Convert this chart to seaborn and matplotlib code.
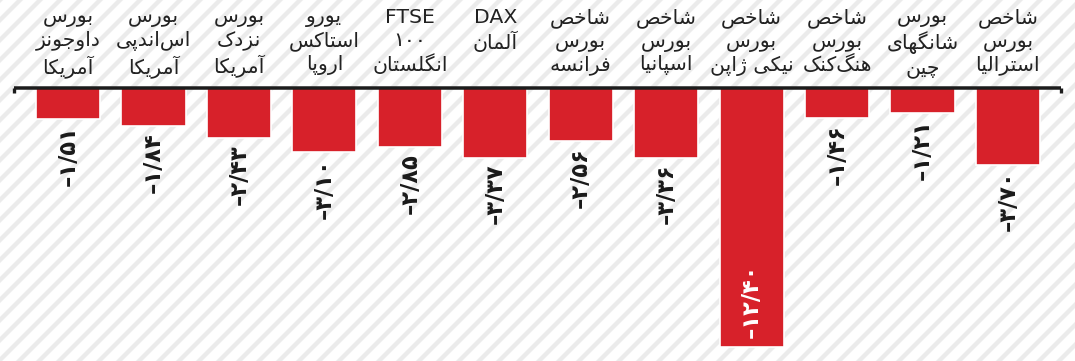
import matplotlib
matplotlib.use("Agg")
import matplotlib.pyplot as plt
from matplotlib.patches import Rectangle
import seaborn as sns
import pandas as pd

# ---------------- data ----------------
categories = [
    "بورس\nداوجونز\nآمریکا",
    "بورس\nاس\u200cاندپی\nآمریکا",
    "بورس\nنزدک\nآمریکا",
    "یورو\nاستاکس\nاروپا",
    "FTSE\n۱۰۰\nانگلستان",
    "DAX\nآلمان",
    "شاخص\nبورس\nفرانسه",
    "شاخص\nبورس\nاسپانیا",
    "شاخص\nبورس\nنیکی ژاپن",
    "شاخص\nبورس\nهنگ\u200cکنک",
    "بورس\nشانگهای\nچین",
    "شاخص\nبورس\nاسترالیا",
]
values = [-1.51, -1.84, -2.43, -3.10, -2.85, -3.37, -2.56, -3.36, -12.40, -1.46, -1.21, -3.70]

# ---------------- simple Arabic/Persian shaping for display ----------------
FORMS = {
    'ا': ('\uFE8D', '\uFE8E'), 'آ': ('\uFE81', '\uFE82'),
    'د': ('\uFEA9', '\uFEAA'), 'ر': ('\uFEAD', '\uFEAE'),
    'ز': ('\uFEAF', '\uFEB0'), 'ژ': ('\uFB8A', '\uFB8B'),
    'و': ('\uFEED', '\uFEEE'),
    'ب': ('\uFE8F', '\uFE90', '\uFE91', '\uFE92'),
    'پ': ('\uFB56', '\uFB57', '\uFB58', '\uFB59'),
    'ت': ('\uFE95', '\uFE96', '\uFE97', '\uFE98'),
    'ج': ('\uFE9D', '\uFE9E', '\uFE9F', '\uFEA0'),
    'چ': ('\uFB7A', '\uFB7B', '\uFB7C', '\uFB7D'),
    'خ': ('\uFEA5', '\uFEA6', '\uFEA7', '\uFEA8'),
    'س': ('\uFEB1', '\uFEB2', '\uFEB3', '\uFEB4'),
    'ش': ('\uFEB5', '\uFEB6', '\uFEB7', '\uFEB8'),
    'ص': ('\uFEB9', '\uFEBA', '\uFEBB', '\uFEBC'),
    'ف': ('\uFED1', '\uFED2', '\uFED3', '\uFED4'),
    'ک': ('\uFB8E', '\uFB8F', '\uFB90', '\uFB91'),
    'گ': ('\uFB92', '\uFB93', '\uFB94', '\uFB95'),
    'ل': ('\uFEDD', '\uFEDE', '\uFEDF', '\uFEE0'),
    'م': ('\uFEE1', '\uFEE2', '\uFEE3', '\uFEE4'),
    'ن': ('\uFEE5', '\uFEE6', '\uFEE7', '\uFEE8'),
    'ه': ('\uFEE9', '\uFEEA', '\uFEEB', '\uFEEC'),
    'ی': ('\uFBFC', '\uFBFD', '\uFBFE', '\uFBFF'),
}
DUAL = {c for c, f in FORMS.items() if len(f) == 4}


def shape_line(s):
    if not any(c in FORMS for c in s):
        return s
    out = []
    for i, c in enumerate(s):
        if c not in FORMS:
            out.append(c)
            continue
        prev = s[i - 1] if i > 0 else ''
        nxt = s[i + 1] if i + 1 < len(s) else ''
        jp = prev in DUAL
        jn = c in DUAL and nxt in FORMS
        f = FORMS[c]
        if jp and jn:
            g = f[3]
        elif jp:
            g = f[1]
        elif jn:
            g = f[2]
        else:
            g = f[0]
        out.append(g)
    return ''.join(out).replace('\u200c', '')[::-1]


def shape(s):
    return '\n'.join(shape_line(l) for l in s.split('\n'))


FA_DIGITS = str.maketrans('0123456789.', '۰۱۲۳۴۵۶۷۸۹/')


def fa_num(v):
    s = f"{abs(v):.2f}".translate(FA_DIGITS)
    return ('–' if v < 0 else '') + s


# ---------------- figure ----------------
DPI = 120
sns.set_theme(style="white")
plt.rcParams['font.family'] = ['DejaVu Sans']
plt.rcParams['hatch.linewidth'] = 2.6

fig = plt.figure(figsize=(1075 / DPI, 361 / DPI), dpi=DPI)
fig.patch.set_facecolor('white')
fig.patches.append(Rectangle((0, 0), 1, 1, transform=fig.transFigure,
                             facecolor='white', edgecolor='#ebebeb',
                             hatch='//', lw=0, zorder=-10))
ax = fig.add_axes([0, 0, 1, 1])
ax.set_facecolor('none')

df = pd.DataFrame({"cat": categories, "val": values})
sns.barplot(data=df, x="cat", y="val", color='#d7212a', saturation=1,
            width=0.75, ax=ax, zorder=2)

ax.set_xlim(-0.796, 11.785)
ax.set_ylim(-13.09, 4.19)
for s in ax.spines.values():
    s.set_visible(False)
ax.set_xticks([])
ax.set_yticks([])
ax.set_xlabel('')
ax.set_ylabel('')

# baseline with end ticks
x0, x1 = -0.632, 11.62
ax.hlines(0, x0, x1, color='#1c1c1c', lw=2.1, zorder=3)
ax.vlines([x0, x1], -0.27, 0, color='#1c1c1c', lw=2.0, zorder=3)

# category labels
for i, c in enumerate(categories):
    ax.text(i, 3.8, shape(c), ha='center', va='top', fontsize=12.2,
            color='#222222', linespacing=1.25, zorder=4)

# value labels
for i, v in enumerate(values):
    if v < -10:
        ax.annotate(fa_num(v), (i, v), xytext=(0, 5), textcoords='offset points',
                    rotation=90, ha='center', va='bottom', fontsize=13.5,
                    fontweight='bold', color='white', zorder=4)
    else:
        ax.annotate(fa_num(v), (i, v), xytext=(0, -3.5), textcoords='offset points',
                    rotation=90, ha='center', va='top', fontsize=13.5,
                    fontweight='bold', color='#1a1a1a', zorder=4)

fig.savefig('out.png', dpi=DPI)
